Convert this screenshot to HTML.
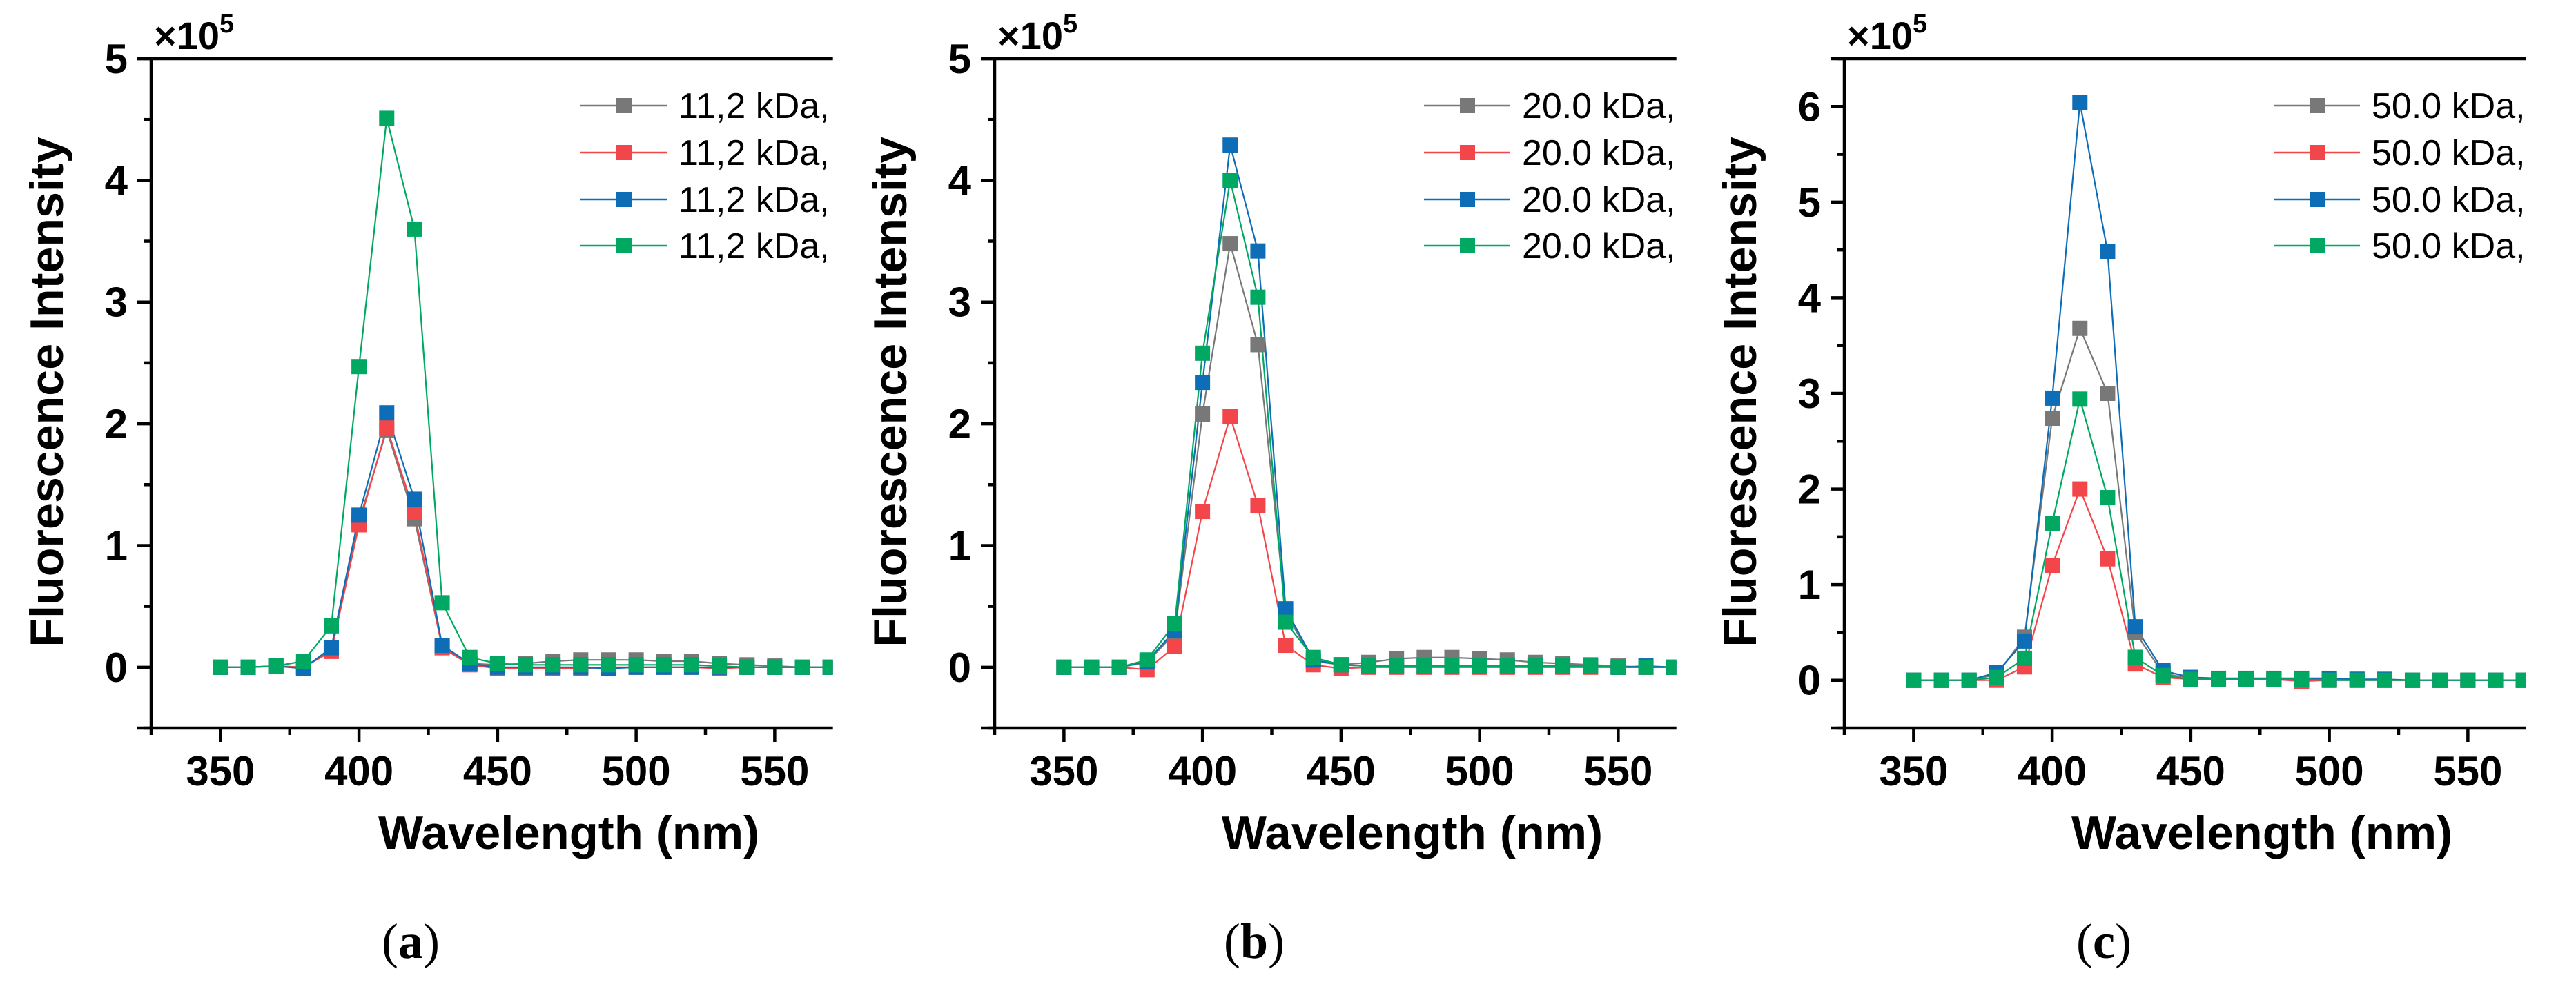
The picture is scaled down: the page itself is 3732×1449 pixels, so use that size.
<!DOCTYPE html>
<html><head><meta charset="utf-8">
<style>html,body{margin:0;padding:0;background:#fff}svg{display:block}</style>
</head><body>
<svg id="fig" xmlns="http://www.w3.org/2000/svg" width="3732" height="1449" viewBox="0 0 3732 1449"></svg>
<script>
const wavelengths = [350,360,370,380,390,400,410,420,430,440,450,460,470,480,490,500,510,520,530,540,550,560,570];
const seriesNames = ['grey','red','blue','green'];
const colors = ['#787878','#F2464B','#0D6DB7','#00A862'];
// Panel a (x1e5)
const aGrey  = [0,0,0.01,0.0,0.14,1.20,1.95,1.22,0.17,0.03,0.02,0.03,0.05,0.06,0.06,0.06,0.05,0.05,0.03,0.02,0.01,0.0,0.0];
const aRed   = [0,0,0.01,0.0,0.13,1.17,1.97,1.27,0.16,0.02,-0.01,-0.01,-0.01,-0.01,0.0,0.0,0.0,0.0,-0.01,0.0,0.0,0.0,0.0];
const aBlue  = [0,0,0.01,-0.01,0.16,1.25,2.09,1.38,0.18,0.03,0.0,0.0,0.0,0.0,-0.01,0.0,0.0,0.0,0.0,0.0,0.0,0.0,0.0];
const aGreen = [0,0,0.01,0.05,0.34,2.47,4.51,3.60,0.53,0.08,0.03,0.02,0.02,0.02,0.02,0.02,0.02,0.02,0.01,0.0,0.0,0.0,0.0];
// Panel b
const bGrey  = [0,0,0.0,0.04,0.28,2.08,3.48,2.65,0.45,0.05,0.02,0.04,0.07,0.08,0.08,0.07,0.06,0.04,0.03,0.02,0.01,0.0,0.0];
const bRed   = [0,0,0.0,-0.02,0.17,1.28,2.06,1.33,0.18,0.02,-0.01,0.0,0.0,0.0,0.0,0.0,0.0,0.0,0.0,0.0,0.0,0.0,0.0];
const bBlue  = [0,0,0.0,0.05,0.30,2.34,4.29,3.42,0.48,0.06,0.02,0.01,0.01,0.01,0.01,0.01,0.01,0.01,0.01,0.01,0.0,0.01,0.0];
const bGreen = [0,0,0.0,0.06,0.36,2.58,4.00,3.04,0.37,0.08,0.02,0.01,0.01,0.01,0.01,0.01,0.01,0.01,0.01,0.01,0.0,0.0,0.0];
// Panel c
const cGrey  = [0,0,0.0,0.06,0.45,2.74,3.68,3.00,0.50,0.07,0.02,0.01,0.01,0.01,0.01,0.01,0.01,0.0,0.0,0.0,0.0,0.0,0.0];
const cRed   = [0,0,0.0,0.0,0.14,1.20,2.00,1.27,0.17,0.03,0.01,0.01,0.01,0.01,-0.01,0.0,0.0,0.0,0.0,0.0,0.0,0.0,0.0];
const cBlue  = [0,0,0.0,0.08,0.41,2.95,6.04,4.48,0.56,0.10,0.03,0.02,0.02,0.02,0.02,0.02,0.01,0.01,0.0,0.0,0.0,0.0,0.0];
const cGreen = [0,0,0.0,0.03,0.23,1.64,2.94,1.91,0.24,0.05,0.01,0.01,0.01,0.01,0.01,0.0,0.0,0.0,0.0,0.0,0.0,0.0,0.0];
const legendA = ['11,2 kDa,','11,2 kDa,','11,2 kDa,','11,2 kDa,'];
const legendB = ['20.0 kDa,','20.0 kDa,','20.0 kDa,','20.0 kDa,'];
const legendC = ['50.0 kDa,','50.0 kDa,','50.0 kDa,','50.0 kDa,'];
const xTicks = [350,400,450,500,550];
const yTicksAB = [0,1,2,3,4,5];
const yTicksC = [0,1,2,3,4,5,6];
const panelLabels = ['(a)','(b)','(c)'];

const NS='http://www.w3.org/2000/svg';
const svg=document.getElementById('fig');
function mk(tag,attrs,parent){const e=document.createElementNS(NS,tag);for(const k in attrs)e.setAttribute(k,attrs[k]);(parent||svg).appendChild(e);return e;}

const panels=[
 {ax:219,ymax:5,series:[aGrey,aRed,aBlue,aGreen],legend:legendA,yt:yTicksAB,key:'a'},
 {ax:1441,ymax:5,series:[bGrey,bRed,bBlue,bGreen],legend:legendB,yt:yTicksAB,key:'b'},
 {ax:2672,ymax:6.5,series:[cGrey,cRed,cBlue,cGreen],legend:legendC,yt:yTicksC,key:'c'}
];
const TOP=85,BOT=1055,XMIN=325,XMAX=571,PXNM=4.015;
const FONT='"Liberation Sans", Arial, sans-serif';

panels.forEach((p,pi)=>{
  const g=mk('g',{});
  
  
  const right=p.ax+(XMAX-XMIN)*PXNM;
  const X=v=>p.ax+(v-XMIN)*PXNM;
  const Y=v=>BOT-(v+0.5)*(BOT-TOP)/(p.ymax+0.5);
  // clip
  const cp=mk('clipPath',{id:'clip'+p.key},g);
  mk('rect',{x:p.ax,y:TOP-20,width:right-p.ax,height:BOT-TOP+20},cp);
  // series
  const sg=mk('g',{'clip-path':'url(#clip'+p.key+')'},g);
  p.series.forEach((vals,si)=>{
    const pts=wavelengths.map((w,i)=>X(w).toFixed(1)+','+Y(vals[i]).toFixed(1)).join(' ');
    const pl=mk('polyline',{points:pts,fill:'none',stroke:colors[si],'stroke-width':2.2},sg);
    
    
  });
  p.series.forEach((vals,si)=>{
    wavelengths.forEach((w,i)=>{
      const r=mk('rect',{x:X(w)-11,y:Y(vals[i])-11,width:22,height:22,fill:colors[si]},sg);
      
      
    });
  });
  // axes
  const ax=mk('path',{d:`M${p.ax-20},${TOP} H${right} M${p.ax},${TOP} V${BOT} M${p.ax-20},${BOT} H${right}`,stroke:'#000','stroke-width':4.5,fill:'none'},g);
  
  
  // x ticks
  for(let v=325;v<=XMAX;v+=25){
    const major=(v-350)%50===0 && v>=350;
    mk('line',{x1:X(v),x2:X(v),y1:BOT,y2:BOT+(major?20:10),stroke:'#000','stroke-width':4.5},g);
  }
  xTicks.forEach(v=>{
    const t=mk('text',{x:X(v),y:1138,'text-anchor':'middle','font-family':FONT,'font-weight':'bold','font-size':60},g);
    t.textContent=v;
    
    
  });
  // y ticks
  for(let v=-0.5;v<=p.ymax+0.001;v+=0.5){
    const major=Math.abs(v-Math.round(v))<0.01;
    mk('line',{x1:p.ax-(major?20:10),x2:p.ax,y1:Y(v),y2:Y(v),stroke:'#000','stroke-width':4.5},g);
  }
  p.yt.forEach(v=>{
    const t=mk('text',{x:p.ax-34,y:Y(v)+21,'text-anchor':'end','font-family':FONT,'font-weight':'bold','font-size':60},g);
    t.textContent=v;
    
    
  });
  // multiplier
  const m=mk('text',{x:p.ax+4,y:71,'font-family':FONT,'font-weight':'bold','font-size':56},g);
  
  
  m.textContent='×10';
  const sup=mk('tspan',{dy:-24,'font-size':38},m); sup.textContent='5';
  // axis titles
  const yt=mk('text',{x:0,y:0,transform:`translate(${p.ax-128},${568}) rotate(-90)`,'text-anchor':'middle','font-family':FONT,'font-weight':'bold','font-size':68,textLength:739,lengthAdjust:'spacingAndGlyphs'},g);
  yt.textContent='Fluorescence Intensity';
  
  
  const xt=mk('text',{x:p.ax+605,y:1230,'text-anchor':'middle','font-family':FONT,'font-weight':'bold','font-size':68,textLength:552,lengthAdjust:'spacingAndGlyphs'},g);
  xt.textContent='Wavelength (nm)';
  
  
  // legend
  const lg=mk('g',{'clip-path':'url(#lclip'+p.key+')'},g);
  const lcp=mk('clipPath',{id:'lclip'+p.key},g);
  mk('rect',{x:p.ax,y:TOP,width:right-p.ax+4,height:400},lcp);
  
  
  const rows=[153,221,289,356];
  p.legend.forEach((name,si)=>{
    const lx=p.ax+622;
    mk('line',{x1:lx,x2:lx+125,y1:rows[si],y2:rows[si],stroke:colors[si],'stroke-width':2.5},lg);
    mk('rect',{x:lx+52,y:rows[si]-11,width:22,height:22,fill:colors[si]},lg);
    const t=mk('text',{x:p.ax+764,y:rows[si]+18,'font-family':FONT,'font-size':52},lg);
    t.textContent=name;
    
    
  });
  // panel label
  const pl=mk('text',{x:p.ax+376,y:1388,'text-anchor':'middle','font-family':'"Liberation Serif", serif','font-size':72},g);
  
  
  const ch=panelLabels[pi];
  const t1=mk('tspan',{},pl);t1.textContent='(';
  const t2=mk('tspan',{'font-weight':'bold'},pl);t2.textContent=ch.slice(1,-1);
  const t3=mk('tspan',{},pl);t3.textContent=')';
});
</script>
</body></html>
